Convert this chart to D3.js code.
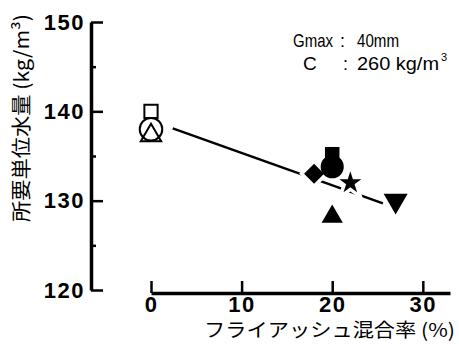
<!DOCTYPE html>
<html>
<head>
<meta charset="utf-8">
<script src="https://cdn.jsdelivr.net/npm/d3@7"></script>
<style>
  body { margin: 0; background: #fff; }
  svg { display: block; }
</style>
</head>
<body>
<div id="viz-container"></div>
<script>
// chart values
const flyAsh = [0, 0, 0, 20, 20, 18, 22, 20, 27];
const waterContent = [140, 138, 137.3, 135.2, 133.8, 133, 132, 128.2, 130];
const markerKind = ['square', 'circle', 'triangle', 'square', 'circle', 'diamond', 'star', 'triangle', 'triangleDown'];
const markerOpen = [true, true, true, false, false, false, false, false, false];
const trendX = [2.4, 25.6];
const trendY = [138.1, 129.7];
const yTicks = [120, 130, 140, 150];
const yMinorTicks = [125, 135, 145];
const xTicks = [0, 10, 20, 30];

const W = 459, H = 344;

const svg = d3.select('#viz-container')
  .append('svg')
  .attr('width', W)
  .attr('height', H);

const x = d3.scaleLinear().domain([0, 33]).range([151, 450]);
const y = d3.scaleLinear().domain([120, 150]).range([290, 22]);

const tickFont = g => g.selectAll('text')
  .attr('font-family', '"Liberation Sans", Arial, sans-serif')
  .attr('font-weight', 'bold')
  .attr('font-size', 22)
  .attr('letter-spacing', 1.5)
  .attr('fill', '#000');

// y axis, ticks point inward, labels on the left
const yAxisX = 91;
svg.append('g')
  .attr('transform', `translate(${yAxisX},0)`)
  .call(d3.axisLeft(y).tickValues(yMinorTicks).tickSize(-5).tickSizeOuter(0).tickFormat(''))
  .call(g => g.select('.domain').remove())
  .call(g => g.selectAll('line').attr('stroke', '#000').attr('stroke-width', 2.5));
svg.append('g')
  .attr('transform', `translate(${yAxisX},0)`)
  .call(d3.axisLeft(y).tickValues(yTicks).tickSize(-12).tickSizeOuter(0).tickPadding(6))
  .call(g => g.select('.domain').attr('stroke', '#000').attr('stroke-width', 3.5))
  .call(g => g.selectAll('line').attr('stroke', '#000').attr('stroke-width', 2.5))
  .call(tickFont);

// x axis, detached below the plot
const xAxisY = 293;
svg.append('g')
  .attr('transform', `translate(0,${xAxisY})`)
  .call(d3.axisBottom(x).tickValues(xTicks).tickSize(-12).tickSizeOuter(0).tickPadding(3))
  .call(g => g.select('.domain').attr('stroke', '#000').attr('stroke-width', 3.5))
  .call(g => g.selectAll('line').attr('stroke', '#000').attr('stroke-width', 2.5))
  .call(tickFont)
  .call(g => g.selectAll('text').attr('dy', '0.71em'));

// axis titles
svg.append('text')
  .attr('transform', 'translate(29,118)rotate(-90)')
  .attr('text-anchor', 'middle')
  .attr('font-family', '"Noto Sans CJK JP", sans-serif')
  .attr('font-size', 20)
  .attr('fill', '#000')
  .attr('textLength', 208)
  .attr('lengthAdjust', 'spacingAndGlyphs')
  .text('所要単位水量 (kg/m³)');

svg.append('text')
  .attr('x', 204)
  .attr('y', 337)
  .attr('font-family', '"Noto Sans CJK JP", sans-serif')
  .attr('font-size', 19)
  .attr('fill', '#000')
  .attr('textLength', 251)
  .attr('lengthAdjust', 'spacingAndGlyphs')
  .text('フライアッシュ混合率 (%)');

// condition note
const note = svg.append('g')
  .attr('font-family', '"Liberation Sans", Arial, sans-serif')
  .attr('font-size', 18)
  .attr('fill', '#000');
note.append('text').attr('x', 293).attr('y', 47).attr('font-size', 19).attr('textLength', 40).attr('lengthAdjust', 'spacingAndGlyphs').text('Gmax');
note.append('text').attr('x', 340).attr('y', 47).text(':');
note.append('text').attr('x', 357).attr('y', 47).attr('font-size', 19).attr('textLength', 42).attr('lengthAdjust', 'spacingAndGlyphs').text('40mm');
note.append('text').attr('x', 303).attr('y', 70).attr('font-size', 19).text('C');
note.append('text').attr('x', 343).attr('y', 70).text(':');
note.append('text').attr('x', 357).attr('y', 70).attr('textLength', 82).attr('lengthAdjust', 'spacingAndGlyphs').text('260 kg/m');
note.append('text').attr('x', 441).attr('y', 61).attr('font-size', 11).text('3');

// trend line
svg.append('line')
  .attr('x1', x(trendX[0])).attr('y1', y(trendY[0]))
  .attr('x2', x(trendX[1])).attr('y2', y(trendY[1]))
  .attr('stroke', '#000')
  .attr('stroke-width', 2.5);

// markers
const shapes = {
  square: {type: d3.symbolSquare, size: 175, rot: 0},
  circle: {type: d3.symbolCircle, size: 400, rot: 0},
  triangle: {type: d3.symbolTriangle, size: 180, rot: 0},
  diamond: {type: d3.symbolSquare, size: 200, rot: 45},
  star: {type: d3.symbolStar, size: 150, rot: 0},
  triangleDown: {type: d3.symbolTriangle, size: 250, rot: 180}
};
const filledSize = {square: 210, circle: 420, triangle: 195};

const points = flyAsh.map((v, i) => ({
  x: v,
  y: waterContent[i],
  kind: markerKind[i],
  open: markerOpen[i]
}));

function symbolPath(d) {
  const s = shapes[d.kind];
  const size = !d.open && filledSize[d.kind] ? filledSize[d.kind] : s.size;
  return d3.symbol().type(s.type).size(size)();
}
function symbolTransform(d) {
  return `translate(${x(d.x)},${y(d.y)})rotate(${shapes[d.kind].rot})`;
}

// white halo breaking the trend line around filled markers
svg.selectAll('.halo')
  .data(points.filter(d => !d.open))
  .join('path')
  .attr('class', 'halo')
  .attr('d', symbolPath)
  .attr('transform', symbolTransform)
  .attr('fill', '#fff')
  .attr('stroke', '#fff')
  .attr('stroke-width', 7);

svg.selectAll('.marker')
  .data(points)
  .join('path')
  .attr('class', 'marker')
  .attr('d', symbolPath)
  .attr('transform', symbolTransform)
  .attr('fill', d => d.open ? 'none' : '#000')
  .attr('stroke', '#000')
  .attr('stroke-width', d => d.open ? 2 : 0);
</script>
</body>
</html>
